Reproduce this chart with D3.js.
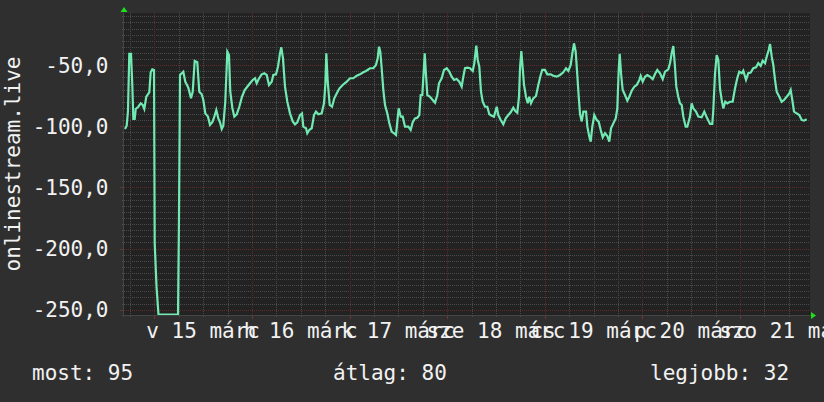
<!DOCTYPE html>
<html><head><meta charset="utf-8">
<script src="https://cdn.jsdelivr.net/npm/d3@7"></script>
<style>html,body{margin:0;padding:0;background:#2f2f2f;}svg{display:block}</style>
</head><body><svg id="c" width="824" height="402"></svg>
<script>
// ---- data ----
const startTime = Date.UTC(2020, 2, 14, 16, 33);   // graph start
const spanHours = 168.65;
const hours = [0.25,0.66,0.98,1.30,1.72,2.04,2.29,2.63,2.88,3.52,4.11,4.60,4.99,5.48,6.22,6.56,6.96,7.38,7.55,7.99,8.48,13.28,13.52,13.77,14.58,15.07,15.81,16.47,16.89,17.38,18.02,18.51,19.10,19.50,19.99,20.65,21.14,21.71,22.13,22.69,23.18,23.60,24.02,24.41,24.90,25.40,25.81,26.13,26.63,27.12,27.71,28.35,29.01,29.67,30.31,30.98,31.64,32.21,32.62,33.12,33.85,34.49,35.08,35.65,36.31,36.71,37.37,37.86,38.35,38.67,39.09,39.58,40.15,40.81,41.48,42.04,42.61,43.27,43.76,44.08,44.74,45.06,45.56,46.15,46.71,47.20,47.77,48.60,49.17,49.49,49.74,50.08,50.57,51.14,51.70,52.29,52.93,53.77,54.75,55.56,56.37,57.21,58.02,58.83,59.50,60.48,61.29,61.95,62.37,62.69,63.01,63.35,63.75,64.17,64.73,65.23,65.81,66.38,66.87,67.19,67.53,68.03,68.52,69.08,69.90,70.48,70.98,71.54,72.11,72.60,72.94,73.34,73.68,73.93,74.25,74.57,75.23,75.89,76.46,77.02,77.44,78.10,78.67,79.34,79.97,80.56,81.13,81.79,82.43,83.02,83.42,83.83,84.40,85.06,85.73,86.12,86.61,86.96,87.35,87.77,88.19,88.75,89.32,89.81,90.40,90.96,91.63,92.02,92.61,93.25,93.84,94.48,95.07,95.71,96.20,96.69,97.11,97.36,97.68,98.02,98.34,98.83,99.25,99.64,100.06,100.63,101.29,101.86,102.44,102.84,103.50,104.07,104.90,105.54,106.38,107.19,108.00,108.67,109.23,109.82,110.22,110.63,111.05,111.44,111.79,112.11,112.53,112.92,113.59,113.91,114.40,114.74,115.13,115.62,116.21,116.70,117.20,117.69,118.25,118.82,119.31,119.73,120.30,120.89,121.28,121.62,121.87,122.19,122.60,123.17,123.74,124.23,124.82,125.46,126.05,126.69,127.03,127.52,128.09,128.65,129.32,129.98,130.55,131.11,131.78,132.44,133.01,133.82,134.23,134.65,135.04,135.39,135.78,136.27,136.69,137.11,137.50,138.09,138.48,139.14,139.56,139.96,140.62,141.19,142.02,142.66,143.25,144.07,144.63,144.88,145.30,145.71,146.11,146.52,146.94,147.33,147.82,148.31,148.98,149.64,150.21,150.77,151.26,151.86,152.25,152.92,153.48,154.07,154.71,155.38,155.94,156.53,157.02,157.59,158.01,158.50,158.82,159.24,159.63,160.05,160.46,161.10,161.69,162.26,162.92,163.56,163.90,164.30,164.72,165.38,166.02,166.61,167.17,167.84];
const values = [-102.2,-99.5,-87.5,-40.8,-40.8,-66.2,-94,-94,-85.8,-84,-81.2,-82.6,-85.8,-75.8,-72.2,-55.8,-53.4,-53.9,-195.7,-231,-254,-254,-174,-58,-55.3,-63.5,-68.4,-77.1,-71.7,-46.6,-47.6,-71.7,-73.8,-78.5,-89.4,-92.1,-98.9,-96.7,-93,-86.7,-93.5,-96.7,-102.2,-99.5,-79.9,-39,-41.7,-71.7,-84.8,-92.1,-90.2,-84,-75.8,-70.3,-67.6,-64.8,-62.1,-60.7,-64.8,-61.3,-57.5,-56.6,-58,-66.2,-63.5,-58,-57.5,-51.2,-40.3,-35.4,-44.4,-67.6,-79.9,-89.4,-96,-98.4,-96.7,-90.8,-89.4,-100.3,-101.6,-105.7,-103,-101.6,-90.8,-88,-90.2,-89.4,-81.2,-66.2,-40.3,-63.5,-82.6,-84,-77.1,-73.1,-69.1,-66.2,-63.5,-60.7,-60.7,-58.6,-57.5,-55.8,-54.7,-52.5,-52.5,-49.8,-44.4,-34.9,-39,-52.5,-70.3,-82.6,-89.4,-97.6,-104.4,-105.7,-107.1,-96.2,-85.3,-92.1,-92.1,-100.3,-100.3,-103,-96.7,-93.5,-93,-90.8,-74.4,-74.4,-55.3,-40.3,-58,-74.4,-75.8,-78.5,-80.7,-74.4,-64.8,-60.7,-53.9,-52.5,-55.3,-59.4,-62.1,-61.3,-63.5,-67.6,-59.4,-52.5,-52,-52.5,-54.7,-48.4,-34,-45.7,-51.2,-71.7,-79.9,-84,-84,-90.2,-91.3,-92.1,-84,-90.8,-94.8,-98.4,-93.5,-90.8,-88.5,-84.8,-87.5,-88.9,-75.8,-52.5,-38.4,-52.5,-66.2,-75.8,-81.2,-75.8,-81.2,-77.1,-75.2,-66.2,-58,-53.9,-53.9,-57.5,-57.5,-58.6,-59.4,-58,-55.8,-52.5,-54.7,-49.8,-40.3,-32.1,-39,-58,-75.8,-90,-96,-88,-88,-100.3,-108.5,-112.6,-100.3,-90.8,-94.8,-96.2,-103,-109,-105.7,-107.9,-112.6,-101.6,-97.6,-93.5,-85.3,-53.9,-40.8,-56.6,-70.3,-74.4,-79,-75.8,-70.9,-67.6,-66.2,-62.1,-58.8,-63.5,-59.4,-58,-59.4,-61.5,-57.2,-53.9,-56.6,-61.5,-55.3,-53.4,-48.4,-40.3,-34.3,-48.4,-67.6,-75.8,-81.2,-82.6,-92.1,-100.3,-100.3,-92.1,-81.2,-85.3,-88,-92.1,-92.6,-88,-92.6,-98.1,-98.1,-86.7,-56.6,-41.7,-45.7,-69.1,-78.5,-85.3,-79.9,-81.2,-79.9,-79.9,-69.1,-60.7,-55.3,-56.6,-54.5,-62.1,-56.6,-56.1,-52.5,-51.7,-48.4,-50.6,-46.3,-48.4,-43,-37.6,-32.6,-43,-49.8,-62.1,-71.7,-75.8,-79.9,-78.5,-75.8,-73.1,-70.3,-78.5,-88,-89.4,-90.8,-94.8,-95.4,-94.3];
const yDomain = [-254.4, -7.3];
const yMajorTicks = [-50, -100, -150, -200, -250];
const yTickLabels = ["-50,0", "-100,0", "-150,0", "-200,0", "-250,0"];
const yMinorStep = 5;
const dayLabelDays = [15, 16, 17, 18, 19, 20, 21];
const weekdayNames = ["v", "h", "k", "sze", "cs", "p", "szo"];
const monthName = "márc";
const yTitle = "onlinestream.live";
const legendNames = ["most", "átlag", "legjobb"];
const legendValues = [95, 80, 32];

// ---- layout ----
const W = 824, H = 402;
const m = {left: 124, right: 810, top: 13, bottom: 315};
const FONT = "'DejaVu Sans Mono', monospace";
const svg = d3.select("#c");
svg.append("rect").attr("width", W).attr("height", H).attr("fill", "#2f2f2f");

const x = d3.scaleUtc()
  .domain([new Date(startTime), new Date(startTime + spanHours * 3600e3)])
  .range([m.left, m.right]);
const y = d3.scaleLinear().domain(yDomain).range([m.bottom, m.top]);

svg.append("rect").attr("x", m.left).attr("y", m.top)
  .attr("width", m.right - m.left).attr("height", m.bottom - m.top).attr("fill", "#222222");

const grid = svg.append("g").attr("shape-rendering", "crispEdges");
const minorCol = "#4a4a4a", majorCol = "#5e2a2a";
// horizontal grid
const ySteps = d3.range(-10, yDomain[0], -yMinorStep);
ySteps.forEach(v => {
  const major = yMajorTicks.includes(v);
  const py = Math.round(y(v)) + 0.5;
  grid.append("line").attr("x1", m.left).attr("x2", m.right).attr("y1", py).attr("y2", py)
    .attr("stroke", major ? majorCol : minorCol).attr("stroke-dasharray", "1,1");
  grid.append("line").attr("x1", m.left - (major ? 4 : 2)).attr("x2", m.left).attr("y1", py).attr("y2", py)
    .attr("stroke", major ? "#6e3434" : "#505050");
});
// vertical grid
const vt = d3.utcHour.every(6).range(x.domain()[0], x.domain()[1]);
vt.forEach(t => {
  const major = t.getUTCHours() === 0;
  const px = Math.round(x(t)) + 0.5;
  grid.append("line").attr("x1", px).attr("x2", px).attr("y1", m.top).attr("y2", m.bottom)
    .attr("stroke", major ? majorCol : minorCol).attr("stroke-dasharray", "1,1");
  grid.append("line").attr("x1", px).attr("x2", px).attr("y1", m.bottom).attr("y2", m.bottom + (major ? 4 : 2))
    .attr("stroke", major ? "#7a3434" : "#505050");
});
// axis lines
grid.append("line").attr("x1", m.left - 0.5).attr("x2", m.left - 0.5).attr("y1", m.top).attr("y2", m.bottom + 2).attr("stroke", "#444");
grid.append("line").attr("x1", m.left - 2).attr("x2", m.right + 1).attr("y1", m.bottom + 0.5).attr("y2", m.bottom + 0.5).attr("stroke", "#444");
// arrows
svg.append("path").attr("d", `M${m.left - 3.5},${m.top - 1}L${m.left + 3.5},${m.top - 1}L${m.left},${m.top - 6}Z`).attr("fill", "#1ee01e");
svg.append("path").attr("d", `M${m.right + 1},${m.bottom - 3}L${m.right + 1},${m.bottom + 4}L${m.right + 6},${m.bottom + 0.5}Z`).attr("fill", "#1ee01e");

// line
svg.append("clipPath").attr("id", "clip").append("rect")
  .attr("x", m.left).attr("y", m.top - 2).attr("width", m.right - m.left).attr("height", m.bottom - m.top + 2);
const pts = hours.map((h, i) => ({t: new Date(startTime + h * 3600e3), v: values[i]}));
svg.append("path").datum(pts).attr("clip-path", "url(#clip)")
  .attr("fill", "none").attr("stroke", "#70eab2").attr("stroke-width", 2.2).attr("stroke-linejoin", "miter")
  .attr("d", d3.line().x(d => x(d.t)).y(d => y(d.v)));

// y labels
const txt = svg.append("g").attr("font-family", FONT).attr("font-size", 21).attr("fill", "#f2f2f2");
yMajorTicks.forEach((v, i) => {
  txt.append("text").attr("x", 108.5).attr("y", y(v) + 7.5).attr("text-anchor", "end").text(yTickLabels[i]);
});
// x labels at noon of each day
dayLabelDays.forEach(d => {
  const t = new Date(Date.UTC(2020, 2, d, 12));
  txt.append("text").attr("x", x(t)).attr("y", 338).attr("text-anchor", "middle")
    .text(`${weekdayNames[t.getUTCDay()]} ${d} ${monthName}`);
});
// y title
txt.append("text").attr("transform", `translate(20,${(m.top + m.bottom) / 2}) rotate(-90)`)
  .attr("text-anchor", "middle").text(yTitle);
// legend
const legX = [32, 333, 650];
legendNames.forEach((n, i) => {
  txt.append("text").attr("x", legX[i]).attr("y", 380).text(`${n}: ${legendValues[i]}`);
});
</script></body></html>
